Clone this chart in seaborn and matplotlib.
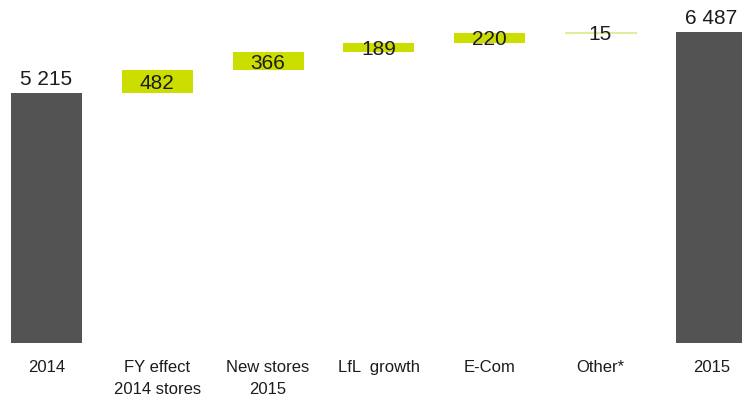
import matplotlib
matplotlib.use("Agg")
import matplotlib.pyplot as plt
import seaborn as sns
import pandas as pd
import numpy as np

categories = ["2014", "FY effect\n2014 stores", "New stores\n2015", "LfL  growth", "E-Com", "Other*", "2015"]
values = [5215, 482, 366, 189, 220, 15, 6487]
is_total = [True, False, False, False, False, False, True]

# bottoms from running sum
bottoms = []
running = 0
for v, t in zip(values, is_total):
    if t:
        bottoms.append(0)
        running = v
    else:
        bottoms.append(running)
        running += v

dark = "#535353"
lime = "#CCDD00"
pale = "#E2EC9C"
colors = [dark if t else (pale if v < 50 else lime) for v, t in zip(values, is_total)]

df = pd.DataFrame({"cat": categories, "val": values})

sns.set_theme(style="white")
plt.rcParams["font.family"] = ["Liberation Sans", "DejaVu Sans"]

fig = plt.figure(figsize=(7.42, 3.98), dpi=100)
ax = fig.add_axes([0, 55 / 398, 1, 343 / 398])

sns.barplot(data=df, x="cat", y="val", hue="cat", palette=colors, legend=False,
            width=0.64, ax=ax, saturation=1, linewidth=0)

for p, b, v, t in zip(ax.patches, bottoms, values, is_total):
    p.set_y(b)
    p.set_height(v)
    if not t and v < 50:
        p.set_edgecolor(pale)
        p.set_linewidth(0.8)

txt_color = "#1c1c1c"
for i, (b, v, t) in enumerate(zip(bottoms, values, is_total)):
    label = f"{v:,}".replace(",", " ")
    if t:
        ax.annotate(label, (i, b + v), xytext=(0, 5.5), textcoords="offset points",
                    ha="center", va="baseline", fontsize=15, color=txt_color)
    else:
        ax.annotate(label, (i, b + v / 2), xytext=(0, -5.4), textcoords="offset points",
                    ha="center", va="baseline", fontsize=15, color=txt_color)

ax.set_xlim(-46.5 / 110.8, (742 - 46.5) / 110.8)
ax.set_ylim(0, 343 / (311 / 6487))
for s in ax.spines.values():
    s.set_visible(False)
ax.set_yticks([])
ax.set_xlabel("")
ax.set_ylabel("")
ax.tick_params(axis="x", length=0, pad=12.5, labelsize=12, colors=txt_color)
for lbl in ax.get_xticklabels():
    lbl.set_linespacing(1.55)

fig.savefig("out.png", dpi=100)
